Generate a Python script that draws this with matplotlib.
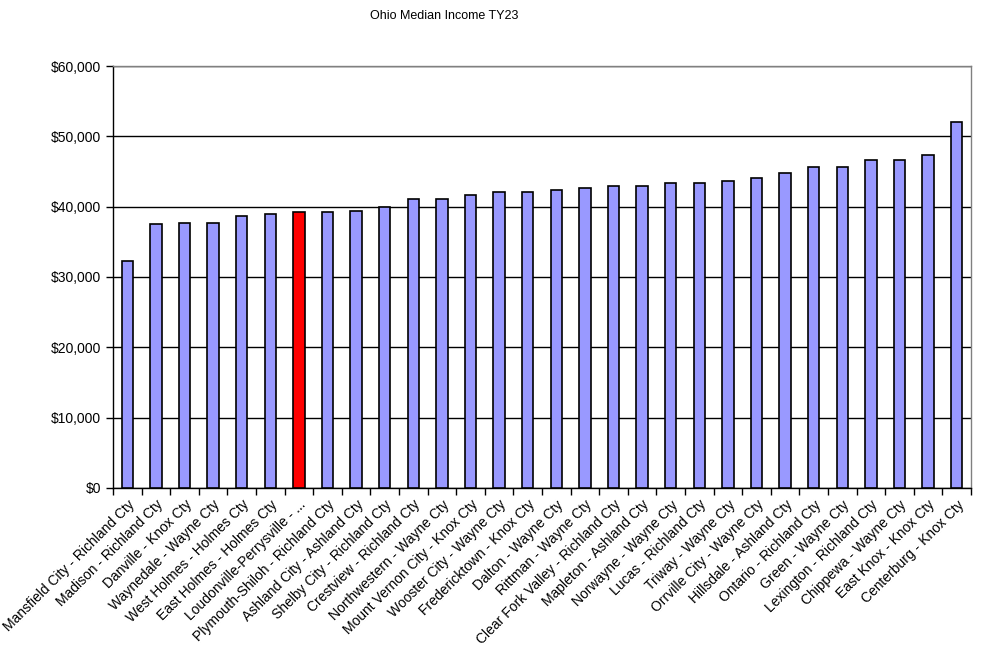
import matplotlib
matplotlib.use("Agg")
import matplotlib.pyplot as plt
from matplotlib.ticker import FuncFormatter, FixedLocator
import numpy as np

plt.rcParams['font.family'] = ['Liberation Sans', 'DejaVu Sans']

# === Data ===
districts = [
    "Mansfield City - Richland Cty", "Madison - Richland Cty", "Danville - Knox Cty",
    "Waynedale - Wayne Cty", "West Holmes - Holmes Cty", "East Holmes - Holmes Cty",
    "Loudonville-Perrysville - ...", "Plymouth-Shiloh - Richland Cty", "Ashland City - Ashland Cty",
    "Shelby City - Richland Cty", "Crestview - Richland Cty", "Northwestern - Wayne Cty",
    "Mount Vernon City - Knox Cty", "Wooster City - Wayne Cty", "Fredericktown - Knox Cty",
    "Dalton - Wayne Cty", "Rittman - Wayne Cty", "Clear Fork Valley - Richland Cty",
    "Mapleton - Ashland Cty", "Norwayne - Wayne Cty", "Lucas - Richland Cty",
    "Triway - Wayne Cty", "Orrville City - Wayne Cty", "Hillsdale - Ashland Cty",
    "Ontario - Richland Cty", "Green - Wayne Cty", "Lexington - Richland Cty",
    "Chippewa - Wayne Cty", "East Knox - Knox Cty", "Centerburg - Knox Cty",
]
median_income = [
    32300, 37600, 37700, 37700, 38700, 39000, 39300, 39300, 39400, 40000,
    41100, 41100, 41600, 42100, 42100, 42300, 42700, 42900, 43000, 43300,
    43400, 43700, 44100, 44800, 45600, 45700, 46600, 46700, 47300, 52100,
]
highlight = "Loudonville-Perrysville - ..."

# === Plot ===
fig = plt.figure(figsize=(9.87, 6.45), dpi=100)
ax = fig.add_axes([113/987, 1 - 488/645, (971 - 113)/987, (488 - 66)/645])

x = np.arange(len(districts))
colors = ['#FF0000' if d == highlight else '#9999FF' for d in districts]
ax.bar(x, median_income, width=0.4, color=colors, edgecolor='black', linewidth=1.2, zorder=3)

ax.set_xlim(-0.5, len(districts) - 0.5)
ax.set_ylim(0, 60000)
ax.set_yticks(range(0, 60001, 10000))
ax.yaxis.set_major_formatter(FuncFormatter(lambda v, p: f"${v:,.0f}"))
ax.yaxis.grid(True, color='black', linewidth=1.0, zorder=0)

# category labels + tick marks between categories
ax.set_xticks(x)
ax.set_xticklabels(districts, rotation=45, ha='right', va='top', rotation_mode='anchor', fontsize=10)
ax.tick_params(axis='x', length=0, pad=7)
ax.xaxis.set_minor_locator(FixedLocator(np.arange(-0.5, len(districts), 1.0)))
ax.tick_params(axis='x', which='minor', length=5, width=1, direction='out')
ax.tick_params(axis='y', length=5, width=1, direction='out', labelsize=10)

for s in ['left', 'bottom']:
    ax.spines[s].set_color('black')
    ax.spines[s].set_linewidth(1.0)
for s in ['top', 'right']:
    ax.spines[s].set_color('#808080')
    ax.spines[s].set_linewidth(1.0)

fig.text(444/987, 1 - 16/645, "Ohio Median Income TY23", ha='center', va='center', fontsize=9)

fig.savefig("out.png", dpi=100)
